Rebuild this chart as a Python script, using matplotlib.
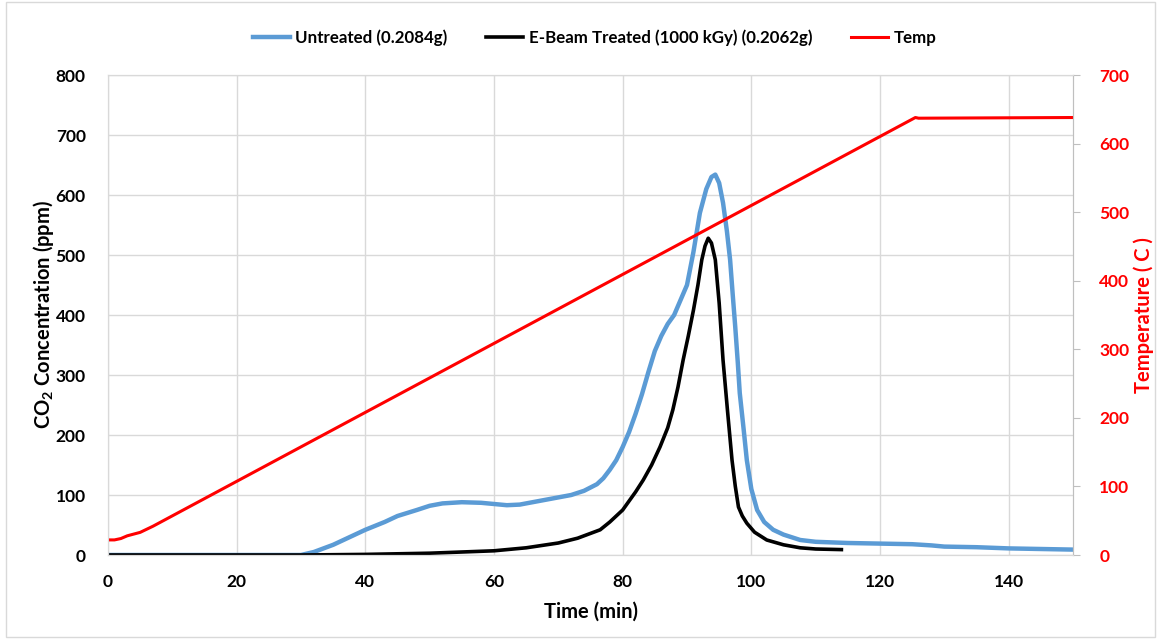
import matplotlib
matplotlib.use("Agg")
import matplotlib.pyplot as plt
from matplotlib.patches import Rectangle

plt.rcParams['font.family'] = ['Lato', 'DejaVu Sans']
plt.rcParams['font.weight'] = 'bold'
plt.rcParams['mathtext.fontset'] = 'custom'
plt.rcParams['mathtext.rm'] = 'Lato:bold'
plt.rcParams['mathtext.it'] = 'Lato:bold'
plt.rcParams['mathtext.bf'] = 'Lato:bold'

# untreated sample, CO2 (ppm) vs time (min)
t_untreated = [0, 30, 32, 35, 38, 40, 43, 45, 48, 50, 52, 55, 58, 60, 62, 64, 66, 68, 70, 72,
               74, 76, 77, 78, 79, 80, 81, 82, 83, 84, 85, 86, 87, 88, 89, 90, 91, 92, 93,
               93.8, 94.4, 95, 95.6, 96.2, 96.7, 97.1, 97.5, 97.9, 98.2, 98.8, 99.3, 100,
               100.9, 102, 103.4, 105, 107.6, 110, 115, 120, 125, 128, 130, 135, 140, 145, 150]
co2_untreated = [0, 0, 5, 17, 32, 42, 55, 65, 75, 82, 86, 88, 87, 85, 83, 84, 88, 92, 96, 100,
                 107, 118, 128, 142, 158, 180, 205, 235, 268, 305, 340, 365, 385, 400, 425, 450,
                 505, 570, 610, 630, 634, 620, 587, 540, 492, 435, 380, 320, 270, 210, 158, 110,
                 75, 55, 42, 34, 25, 22, 20, 19, 18, 16, 14, 13, 11, 10, 9]

# e-beam treated sample
t_treated = [0, 30, 40, 50, 55, 60, 65, 70, 73, 76.5, 78, 80, 82, 83.2, 84.5, 85.8, 87, 87.8,
             88.6, 89.4, 90.2, 91, 91.7, 92.3, 92.8, 93.3, 93.8, 94.4, 95, 95.6, 96.3, 97,
             97.5, 98, 98.6, 99.3, 100.5, 102.4, 105, 107.6, 110, 114]
co2_treated = [0, 0, 1, 3, 5, 7, 12, 20, 28, 42, 55, 75, 105, 125, 150, 180, 212, 242,
               280, 325, 365, 408, 450, 492, 515, 528, 520, 492, 420, 325, 240, 158,
               115, 80, 65, 53, 38, 25, 17, 12, 10, 9]

# furnace temperature (C)
t_temp = [0, 1, 2, 3, 5, 7, 125.5, 126, 150]
temp = [22, 22, 24, 28, 33, 42, 638, 637, 638]

fig = plt.figure(figsize=(11.61, 6.39), dpi=100)
ax = fig.add_axes([108/1161, 1 - 555/639, (1073-108)/1161, 480/639])
ax2 = ax.twinx()

grid_c = '#D9D9D9'
l1, = ax.plot(t_untreated, co2_untreated, color='#5B9BD5', lw=3.2, label='Untreated (0.2084g)')
l2, = ax.plot(t_treated, co2_treated, color='black', lw=2.6,
              label='E-Beam Treated (1000 kGy) (0.2062g)')
l3, = ax2.plot(t_temp, temp, color='#FF0000', lw=2.2, label='Temp')

ax.set_xlim(0, 150)
ax.set_ylim(0, 800)
ax2.set_ylim(0, 700)
ax.set_xticks(range(0, 151, 20))
ax.set_yticks(range(0, 801, 100))
ax2.set_yticks(range(0, 701, 100))
ax.grid(True, color=grid_c, lw=1)
ax.set_axisbelow(True)

for a in (ax, ax2):
    for s in a.spines.values():
        s.set_color(grid_c)
ax2.spines['right'].set_color('#BFBFBF')

ax.tick_params(axis='both', length=0, labelsize=12.5)
ax.tick_params(axis='y', pad=16)
ax.tick_params(axis='x', pad=14)
ax2.tick_params(axis='y', length=5, color='#BFBFBF', labelsize=12.5, labelcolor='#FF0000', pad=14)

ax.set_xlabel('Time (min)', fontsize=14.5, fontweight='bold', labelpad=8)
ax.set_ylabel('CO$_2$ Concentration (ppm)', fontsize=14.5, fontweight='bold', labelpad=0)
ax2.set_ylabel('Temperature ( C )', fontsize=14.5, fontweight='bold', color='#FF0000', labelpad=3)

fig.legend(handles=[l1, l2, l3], loc='center', bbox_to_anchor=(0.512, 1 - 38/639), ncol=3,
           frameon=False, fontsize=12.2, handlelength=2.2, columnspacing=2.3, handletextpad=0.3)

fig.patches.append(Rectangle((6/1161, 2/639), 1 - 12/1161, 1 - 4/639, transform=fig.transFigure,
                             fill=False, edgecolor=grid_c, lw=1))

fig.savefig('out.png', dpi=100)
